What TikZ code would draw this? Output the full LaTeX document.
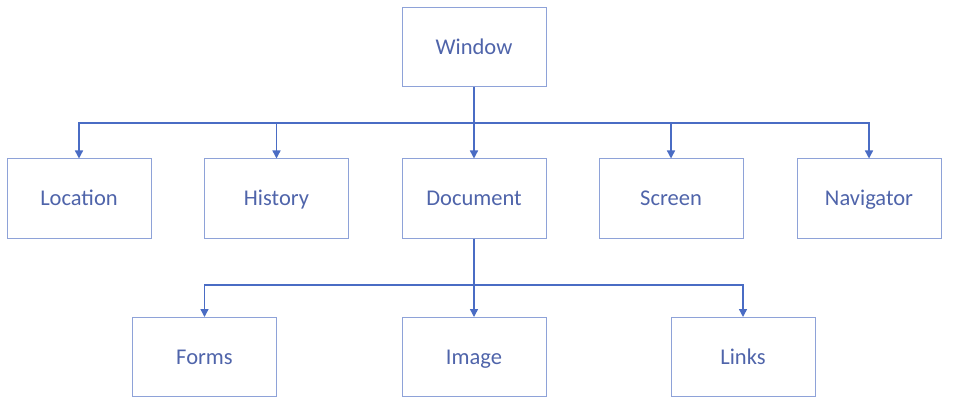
\documentclass[tikz,border=0pt]{standalone}
\usepackage{fontspec}
\setmainfont{Carlito}
\usetikzlibrary{arrows.meta}
\definecolor{boxc}{HTML}{8EA2D8}
\definecolor{linec}{HTML}{4A6CC4}
\definecolor{textc}{HTML}{4F64AA}
\begin{document}
\begin{tikzpicture}[x=1pt,y=-1pt,
  box/.style={draw=boxc,line width=1pt,minimum width=144pt,minimum height=79pt,inner sep=0pt,text height=18pt,text depth=3pt,font=\fontsize{22.5}{26}\selectfont,text=textc},
  conn/.style={draw=linec,line width=1.4pt,-{Triangle[length=8pt,width=8pt]}},
  seg/.style={draw=linec,line width=1.4pt}]
\useasboundingbox (0,0) rectangle (958,414);
\node[box] (win) at (474,47.5) {Window};
\node[box] (loc) at (79,198.5) {Location};
\node[box] (his) at (276.5,198.5) {History};
\node[box] (doc) at (474,198.5) {Document};
\node[box] (scr) at (671,198.5) {Screen};
\node[box] (nav) at (869,198.5) {Navigator};
\node[box] (frm) at (204.5,357) {Forms};
\node[box] (img) at (474,357) {Image};
\node[box] (lnk) at (743,357) {Links};
\coordinate (j1) at (474,123);
\coordinate (j2) at (474,285);
\draw[seg] (win.south) -- (j1);
\draw[conn] (j1) -| (loc.north);
\draw[conn] (j1) -| (his.north);
\draw[conn] (j1) -- (doc.north);
\draw[conn] (j1) -| (scr.north);
\draw[conn] (j1) -| (nav.north);
\draw[seg] (doc.south) -- (j2);
\draw[conn] (j2) -| (frm.north);
\draw[conn] (j2) -- (img.north);
\draw[conn] (j2) -| (lnk.north);
\end{tikzpicture}
\end{document}
